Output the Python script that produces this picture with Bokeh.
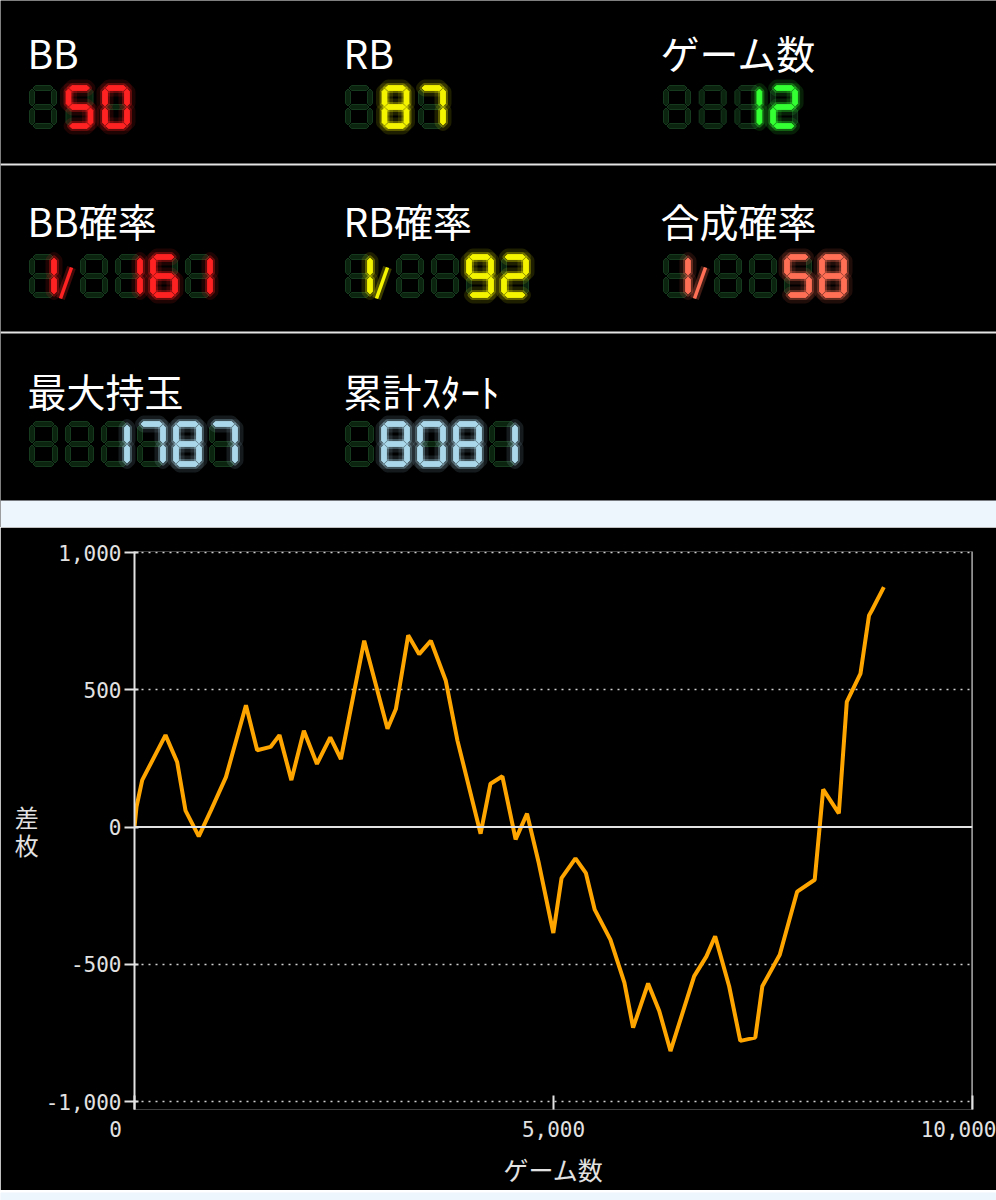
from bokeh.plotting import figure
from bokeh.models import Range1d, FixedTicker, NumeralTickFormatter, Span
from bokeh.embed import file_html
from bokeh.resources import INLINE
from bokeh.core.properties import value

# ---------------- data ----------------
bb_count = 50
rb_count = 87
game_count = 12
bb_prob = 161
rb_prob = 92
total_prob = 58
max_balls = 1787
total_start = 8081

panel_labels = ["BB", "RB", "ゲーム数", "BB確率", "RB確率", "合成確率", "最大持玉", "累計ｽﾀｰﾄ"]

games = [0, 24, 92, 370, 509, 609, 767, 912, 1091, 1330, 1464, 1623, 1730, 1872, 2021,
         2177, 2336, 2463, 2741, 3019, 3119, 3266, 3397, 3536, 3715, 3854, 4130, 4248,
         4390, 4548, 4684, 4825, 4998, 5096, 5262, 5387, 5492, 5679, 5846, 5950, 6129,
         6262, 6396, 6679, 6825, 6929, 7096, 7229, 7408, 7492, 7700, 7908, 8117, 8218,
         8405, 8500, 8663, 8765, 8800, 8942]
sa = [0, 74, 171, 335, 237, 60, -34, 61, 182, 444, 280, 292, 335, 171, 351,
      230, 327, 248, 679, 358, 430, 699, 630, 679, 533, 315, -24, 158,
      185, -45, 49, -132, -386, -186, -114, -168, -301, -410, -567, -731, -570,
      -670, -816, -543, -471, -398, -580, -779, -767, -580, -465, -235, -192, 137,
      50, 456, 559, 771, 790, 874]

y_ticks = [-1000, -500, 0, 500, 1000]
x_ticks = [0, 5000, 10000]
x_tick_labels = ["0", "5,000", "10,000"]

STRIP = "#eef6fd"

# ---------------- top panel (7-segment displays) ----------------
FONT_JP = value("Noto Sans CJK JP")

top = figure(width=996, height=527, x_range=Range1d(0, 996), y_range=Range1d(527, 0),
             output_backend="svg", toolbar_location=None, min_border=0,
             background_fill_color="black", border_fill_color="black")
top.outline_line_color = None
top.axis.visible = False
top.grid.visible = False

top.quad(left=[0], right=[996], top=[500], bottom=[527], color=STRIP, line_color=None)
top.segment(x0=[0, 0], x1=[996, 996], y0=[164, 332], y1=[164, 332],
            line_color="#e4e4e4", line_width=2)

SEG = {'0': 'abcdef', '1': 'bc', '2': 'abdeg', '3': 'abcdg', '4': 'bcfg', '5': 'acdfg',
       '6': 'acdefg', '7': 'abc', '8': 'abcdefg', '9': 'abcdfg', ' ': ''}


def seg_polys(x0, y0, w, h, t=5.0, g=1.0):
    xl = x0 + t / 2
    xr = x0 + w - t / 2
    yt = y0 + t / 2
    ym = y0 + h / 2
    yb = y0 + h - t / 2

    def hseg(x1, x2, yc):
        return ([x1, x1 + t / 2, x2 - t / 2, x2, x2 - t / 2, x1 + t / 2],
                [yc, yc - t / 2, yc - t / 2, yc, yc + t / 2, yc + t / 2])

    def vseg(xc, y1, y2):
        return ([xc, xc + t / 2, xc + t / 2, xc, xc - t / 2, xc - t / 2],
                [y1, y1 + t / 2, y2 - t / 2, y2, y2 - t / 2, y1 + t / 2])

    return {'a': hseg(xl + g, xr - g, yt), 'g': hseg(xl + g, xr - g, ym),
            'd': hseg(xl + g, xr - g, yb),
            'f': vseg(xl, yt + g, ym - g), 'b': vseg(xr, yt + g, ym - g),
            'e': vseg(xl, ym + g, yb - g), 'c': vseg(xr, ym + g, yb - g)}


dim_xs, dim_ys = [], []
lit = {}
slashes = {}


def add_digits(text, x0, y0, pitch, color, w=27, h=43):
    for i, ch in enumerate(text):
        polys = seg_polys(x0 + i * pitch, y0, w, h)
        on = SEG[ch]
        for s, (xs, ys) in polys.items():
            if s in on:
                d = lit.setdefault(color, ([], []))
                d[0].append(xs)
                d[1].append(ys)
            else:
                dim_xs.append(xs)
                dim_ys.append(ys)


def add_prob(val, x0, y0, color):
    add_digits("1", x0, y0, 35, color)
    slashes.setdefault(color, []).append((x0 + 31, y0 + 44, x0 + 42, y0 + 13))
    add_digits(str(val).rjust(4), x0 + 51, y0, 35, color)


RED, YEL, GRN, CORAL, BLUE = "#ff2222", "#f4f400", "#33ff33", "#ff6f55", "#aad8ea"

add_digits(str(bb_count).rjust(3), 29, 85, 36.5, RED)
add_digits(str(rb_count).rjust(3), 345, 85, 36.5, YEL)
add_digits(str(game_count).rjust(4), 663, 85, 35.7, GRN)
add_prob(bb_prob, 29, 254, RED)
add_prob(rb_prob, 345, 254, YEL)
add_prob(total_prob, 663, 254, CORAL)
add_digits(str(max_balls).rjust(6), 29, 421, 36, BLUE, w=28, h=45)
add_digits(str(total_start).rjust(5), 345, 421, 36, BLUE, w=28, h=45)

top.patches(dim_xs, dim_ys, fill_color="#0b2410", line_color="#163a1e", line_width=1)
for col, (xs, ys) in lit.items():
    top.patches(xs, ys, fill_color=col, fill_alpha=0.12, line_color=col, line_alpha=0.12,
                line_width=12, line_join="round")
    top.patches(xs, ys, fill_color=col, fill_alpha=0.3, line_color=col, line_alpha=0.3,
                line_width=5, line_join="round")
    top.patches(xs, ys, fill_color=col, line_color=col, line_width=0.8)
for col, segs in slashes.items():
    x0s = [s[0] for s in segs]
    y0s = [s[1] for s in segs]
    x1s = [s[2] for s in segs]
    y1s = [s[3] for s in segs]
    top.segment(x0=x0s, y0=y0s, x1=x1s, y1=y1s, line_color=col, line_alpha=0.25, line_width=9)
    top.segment(x0=x0s, y0=y0s, x1=x1s, y1=y1s, line_color=col, line_width=3.5)

top.text(x=[27, 343, 660, 27, 343, 660, 27, 343],
         y=[51, 51, 51, 219, 219, 219, 389, 389],
         text=panel_labels, text_font=FONT_JP, text_font_size=value("39px"),
         text_color="white", text_baseline="middle", text_align="left")

# ---------------- chart ----------------
p = figure(width=996, height=663, x_range=Range1d(0, 10000), y_range=Range1d(-1029, 1004),
           output_backend="svg", toolbar_location=None,
           min_border_left=134, min_border_right=24, min_border_top=24, min_border_bottom=81,
           background_fill_color="black", border_fill_color="black")
p.outline_line_color = None
p.xgrid.visible = False

AX = "#e2e2e2"
TICKFONT = "DejaVu Sans Mono"
NB = "\u00a0"

p.ygrid.ticker = FixedTicker(ticks=[t for t in y_ticks if t != 0])
p.ygrid.grid_line_color = "#d0d0d0"
p.ygrid.grid_line_dash = "2 5"
p.ygrid.grid_line_width = 1.5

p.yaxis.ticker = FixedTicker(ticks=y_ticks)
p.yaxis.formatter = NumeralTickFormatter(format="0,0")
p.yaxis.axis_line_color = AX
p.yaxis.axis_line_width = 2
p.yaxis.major_tick_line_color = AX
p.yaxis.major_tick_line_width = 2
p.yaxis.major_tick_in = 4
p.yaxis.major_tick_out = 10
p.yaxis.minor_tick_line_color = None
p.yaxis.major_label_text_color = AX
p.yaxis.major_label_text_font = TICKFONT
p.yaxis.major_label_text_font_size = "21px"
p.yaxis.major_label_standoff = 3
p.yaxis.axis_label = "差\n枚"
p.yaxis.axis_label_orientation = "horizontal"
p.yaxis.axis_label_text_color = AX
p.yaxis.axis_label_text_font = "Noto Sans CJK JP"
p.yaxis.axis_label_text_font_style = "normal"
p.yaxis.axis_label_text_font_size = "24px"
p.yaxis.axis_label_text_line_height = 0.78
p.yaxis.axis_label_standoff = 4

p.xaxis.ticker = FixedTicker(ticks=x_ticks)
p.xaxis.axis_line_color = None
p.xaxis.major_tick_line_color = AX
p.xaxis.major_tick_line_width = 2
p.xaxis.major_tick_in = 14
p.xaxis.major_tick_out = 0
p.xaxis.minor_tick_line_color = None
p.xaxis.major_label_overrides = {
    x_ticks[0]: x_tick_labels[0] + NB * 3,
    x_ticks[1]: x_tick_labels[1],
    x_ticks[2]: x_tick_labels[2],
}
p.xaxis.major_label_text_color = AX
p.xaxis.major_label_text_font = TICKFONT
p.xaxis.major_label_text_font_size = "21px"
p.xaxis.major_label_standoff = 8
p.xaxis.axis_label = "ゲーム数"
p.xaxis.axis_label_text_color = AX
p.xaxis.axis_label_text_font = "Noto Sans CJK JP"
p.xaxis.axis_label_text_font_style = "normal"
p.xaxis.axis_label_text_font_size = "25px"
p.xaxis.axis_label_standoff = 6

p.add_layout(Span(location=0, dimension="width", line_color=AX, line_width=2))
p.add_layout(Span(location=10000, dimension="height", line_color=AX, line_width=2))

p.line(games, sa, line_color="#ffa500", line_width=4)

# ---------------- bottom light strip ----------------
strip = figure(width=996, height=10, output_backend="svg", toolbar_location=None, min_border=0,
               background_fill_color=STRIP, border_fill_color=STRIP)
strip.outline_line_color = None
strip.axis.visible = False
strip.grid.visible = False

open("out.html", "w").write(file_html([top, p, strip], INLINE))
